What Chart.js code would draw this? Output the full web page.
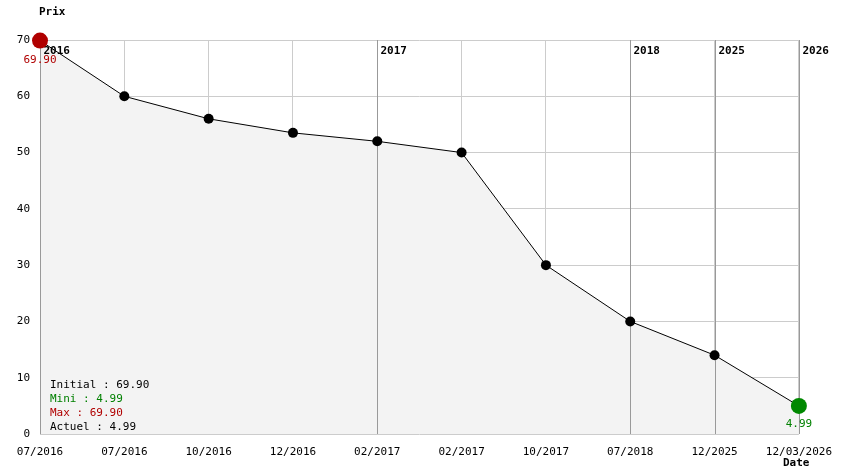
<!DOCTYPE html>
<html><head><meta charset="utf-8">
<script src="https://cdn.jsdelivr.net/npm/chart.js@4/dist/chart.umd.min.js"></script>
<style>body{margin:0;background:#fff}#wrap{width:844px;height:474px}</style>
</head><body><div id="wrap"><canvas id="c"></canvas></div>
<script>
const labels = ['07/2016','07/2016','10/2016','12/2016','02/2017','02/2017','10/2017','07/2018','12/2025','12/03/2026'];
const prices = [69.90, 60, 56, 53.5, 52, 50, 30, 20, 14, 4.99];
const yearMarks = [[0,'2016'],[4,'2017'],[7,'2018'],[8,'2025'],[9,'2026']];
const summary = [['Initial : 69.90','#000'],['Mini : 4.99','#008000'],['Max : 69.90','#b00000'],['Actuel : 4.99','#000']];
const FONT = '"DejaVu Sans Mono", monospace';

const overlay = {
  id: 'overlay',
  afterDatasetsDraw(chart) {
    const {ctx, chartArea: a, scales: {x, y}} = chart;
    ctx.save();
    ctx.strokeStyle = '#999'; ctx.lineWidth = 1;
    ctx.font = 'bold 11px ' + FONT; ctx.fillStyle = '#000'; ctx.textBaseline = 'middle';
    yearMarks.forEach(([i, t]) => {
      const px = Math.round(x.getPixelForValue(i)) + 0.5;
      ctx.beginPath(); ctx.moveTo(px, a.top); ctx.lineTo(px, a.bottom); ctx.stroke();
      ctx.fillText(t, px + 3, a.top + 11);
    });
    // redraw points above year lines
    const meta = chart.getDatasetMeta(0);
    meta.data.forEach((p, i) => {
      const r = (i === 0 || i === prices.length - 1) ? 8 : 5;
      ctx.fillStyle = i === 0 ? '#b00000' : (i === prices.length - 1 ? '#008800' : '#000');
      ctx.beginPath(); ctx.arc(p.x, p.y, r, 0, Math.PI * 2); ctx.fill();
    });
    ctx.font = '11px ' + FONT; ctx.textAlign = 'center';
    const p0 = meta.data[0], pn = meta.data[prices.length - 1];
    ctx.fillStyle = '#b00000'; ctx.fillText(prices[0].toFixed(2), p0.x, p0.y + 20);
    ctx.fillStyle = '#008000'; ctx.fillText(prices[prices.length - 1].toFixed(2), pn.x, pn.y + 18);
    ctx.textAlign = 'left';
    summary.forEach(([t, c], i) => { ctx.fillStyle = c; ctx.fillText(t, 50, 385 + i * 14); });
    ctx.fillStyle = '#000'; ctx.font = 'bold 11px ' + FONT;
    ctx.fillText('Prix', 39, 12);
    ctx.fillText('Date', 783, 463);
    ctx.restore();
  }
};

new Chart(document.getElementById('c'), {
  type: 'line',
  data: { labels, datasets: [{
    data: prices, borderColor: '#000', borderWidth: 1, fill: true,
    backgroundColor: '#f3f3f3', pointRadius: 0, tension: 0
  }]},
  options: {
    responsive: true, maintainAspectRatio: false, animation: false,
    layout: { padding: { top: 40, right: 35 } },
    plugins: { legend: { display: false }, tooltip: { enabled: false } },
    scales: {
      x: {
        offset: false,
        grid: { color: '#ccc', drawTicks: false },
        border: { display: false },
        ticks: { color: '#000', font: { family: FONT, size: 11 }, maxRotation: 0, autoSkip: false, padding: 12 },
        afterFit(s) { s.height = 40; }
      },
      y: {
        min: 0, max: 70,
        grid: { color: '#ccc', drawTicks: false },
        border: { display: false },
        ticks: { stepSize: 10, color: '#000', font: { family: FONT, size: 11 }, padding: 10 },
        afterFit(s) { s.width = 40; }
      }
    }
  },
  plugins: [overlay]
});
</script></body></html>
